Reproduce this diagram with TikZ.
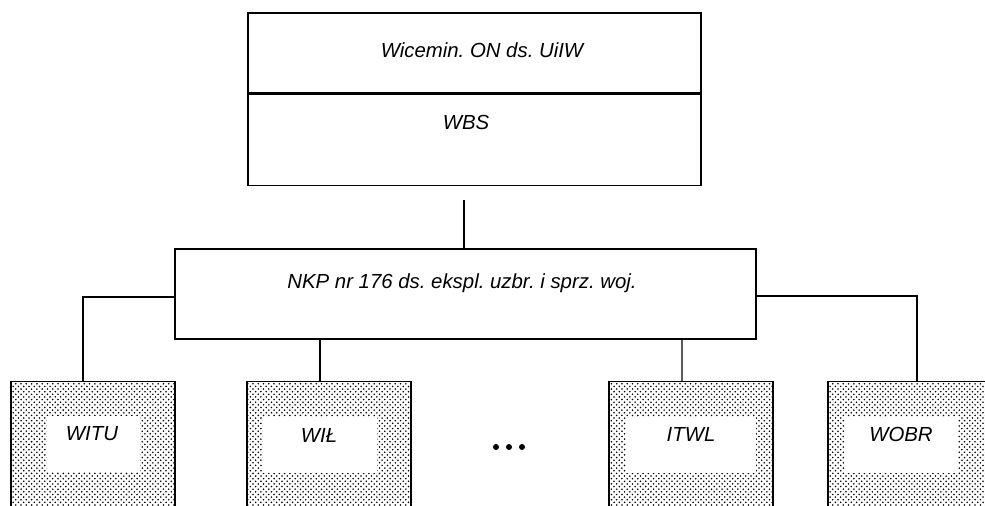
\documentclass[tikz,border=0pt]{standalone}
\usepackage{fontspec}
\setmainfont{Liberation Sans}
\usetikzlibrary{positioning, calc, patterns}
\frenchspacing

\begin{document}
\begin{tikzpicture}[
    x=0.02cm, y=-0.02cm,
    box/.style={rectangle, draw=black, line width=0.8pt, fill=white, inner sep=0pt},
    unitbox/.style={rectangle, draw=black, line width=0.8pt, pattern=crosshatch dots, pattern color=black, minimum width=3.28cm, minimum height=3cm, inner sep=0pt},
    inbox/.style={rectangle, fill=white, inner sep=0pt, minimum height=1.12cm},
    lbl/.style={font=\fontsize{11.6}{13}\selectfont\itshape, inner sep=0pt},
    link/.style={draw=black, line width=0.8pt}
]
\clip (0,0) rectangle (985,505);
\fill[white] (0,0) rectangle (985,505);

% TOP BOX
\node[box, minimum width=9.06cm, minimum height=1.6cm] (wicemin) at (474.5,53) {};
\node[box, minimum width=9.06cm, minimum height=1.82cm, below=0pt of wicemin] (wbs) {};
\node[lbl] (wicemin_txt) at (482,50) {Wicemin. ON ds. UiIW};
\node[lbl] (wbs_txt) at (466,122) {WBS};

% COMMISSION
\node[box, minimum width=11.62cm, minimum height=1.8cm] (nkp) at (465.5,294) {};
\node[lbl] (nkp_txt) at (462,283) {NKP nr 176 ds. ekspl. uzbr. i sprz. woj.};

% UNITS
\node[unitbox, anchor=north] (witu) at (93,381) {};
\node[unitbox, anchor=north] (wil) at (329,381) {};
\node[unitbox, anchor=north] (itwl) at (691,381) {};
\node[unitbox, anchor=north] (wobr) at (910,381) {};

\node[inbox, minimum width=1.86cm] (witu_in) at (93.5,444) {};
\node[inbox, minimum width=2.28cm] (wil_in) at (320,445) {};
\node[inbox, minimum width=2.6cm] (itwl_in) at (691,444.5) {};
\node[inbox, minimum width=2.26cm] (wobr_in) at (901.5,444.5) {};

\node[lbl] (witu_txt) at (92,434) {WITU};
\node[lbl] (wil_txt) at (319,435) {WIŁ};
\node[lbl] (itwl_txt) at (691,434) {ITWL};
\node[lbl] (wobr_txt) at (901,434) {WOBR};

\foreach \dx in {496,509,522}
    \fill (\dx,447) circle (3);

% CONNECTORS
\coordinate (wbs_gap) at (464,200);
\draw[link] (wbs_gap) -- (wbs_gap |- nkp.north);
\draw[link] ($(nkp.west)+(0,3)$) -| ($(witu.north)+(-10,0)$);
\draw[link] ($(nkp.east)+(0,2)$) -| ($(wobr.north)+(7,0)$);
\draw[link] ($(nkp.south)+(-145.5,0)$) -- ($(wil.north)+(-9,0)$);
\draw[link] ($(nkp.south)+(216.5,0)$) -- ($(itwl.north)+(-9,0)$);
\end{tikzpicture}
\end{document}
